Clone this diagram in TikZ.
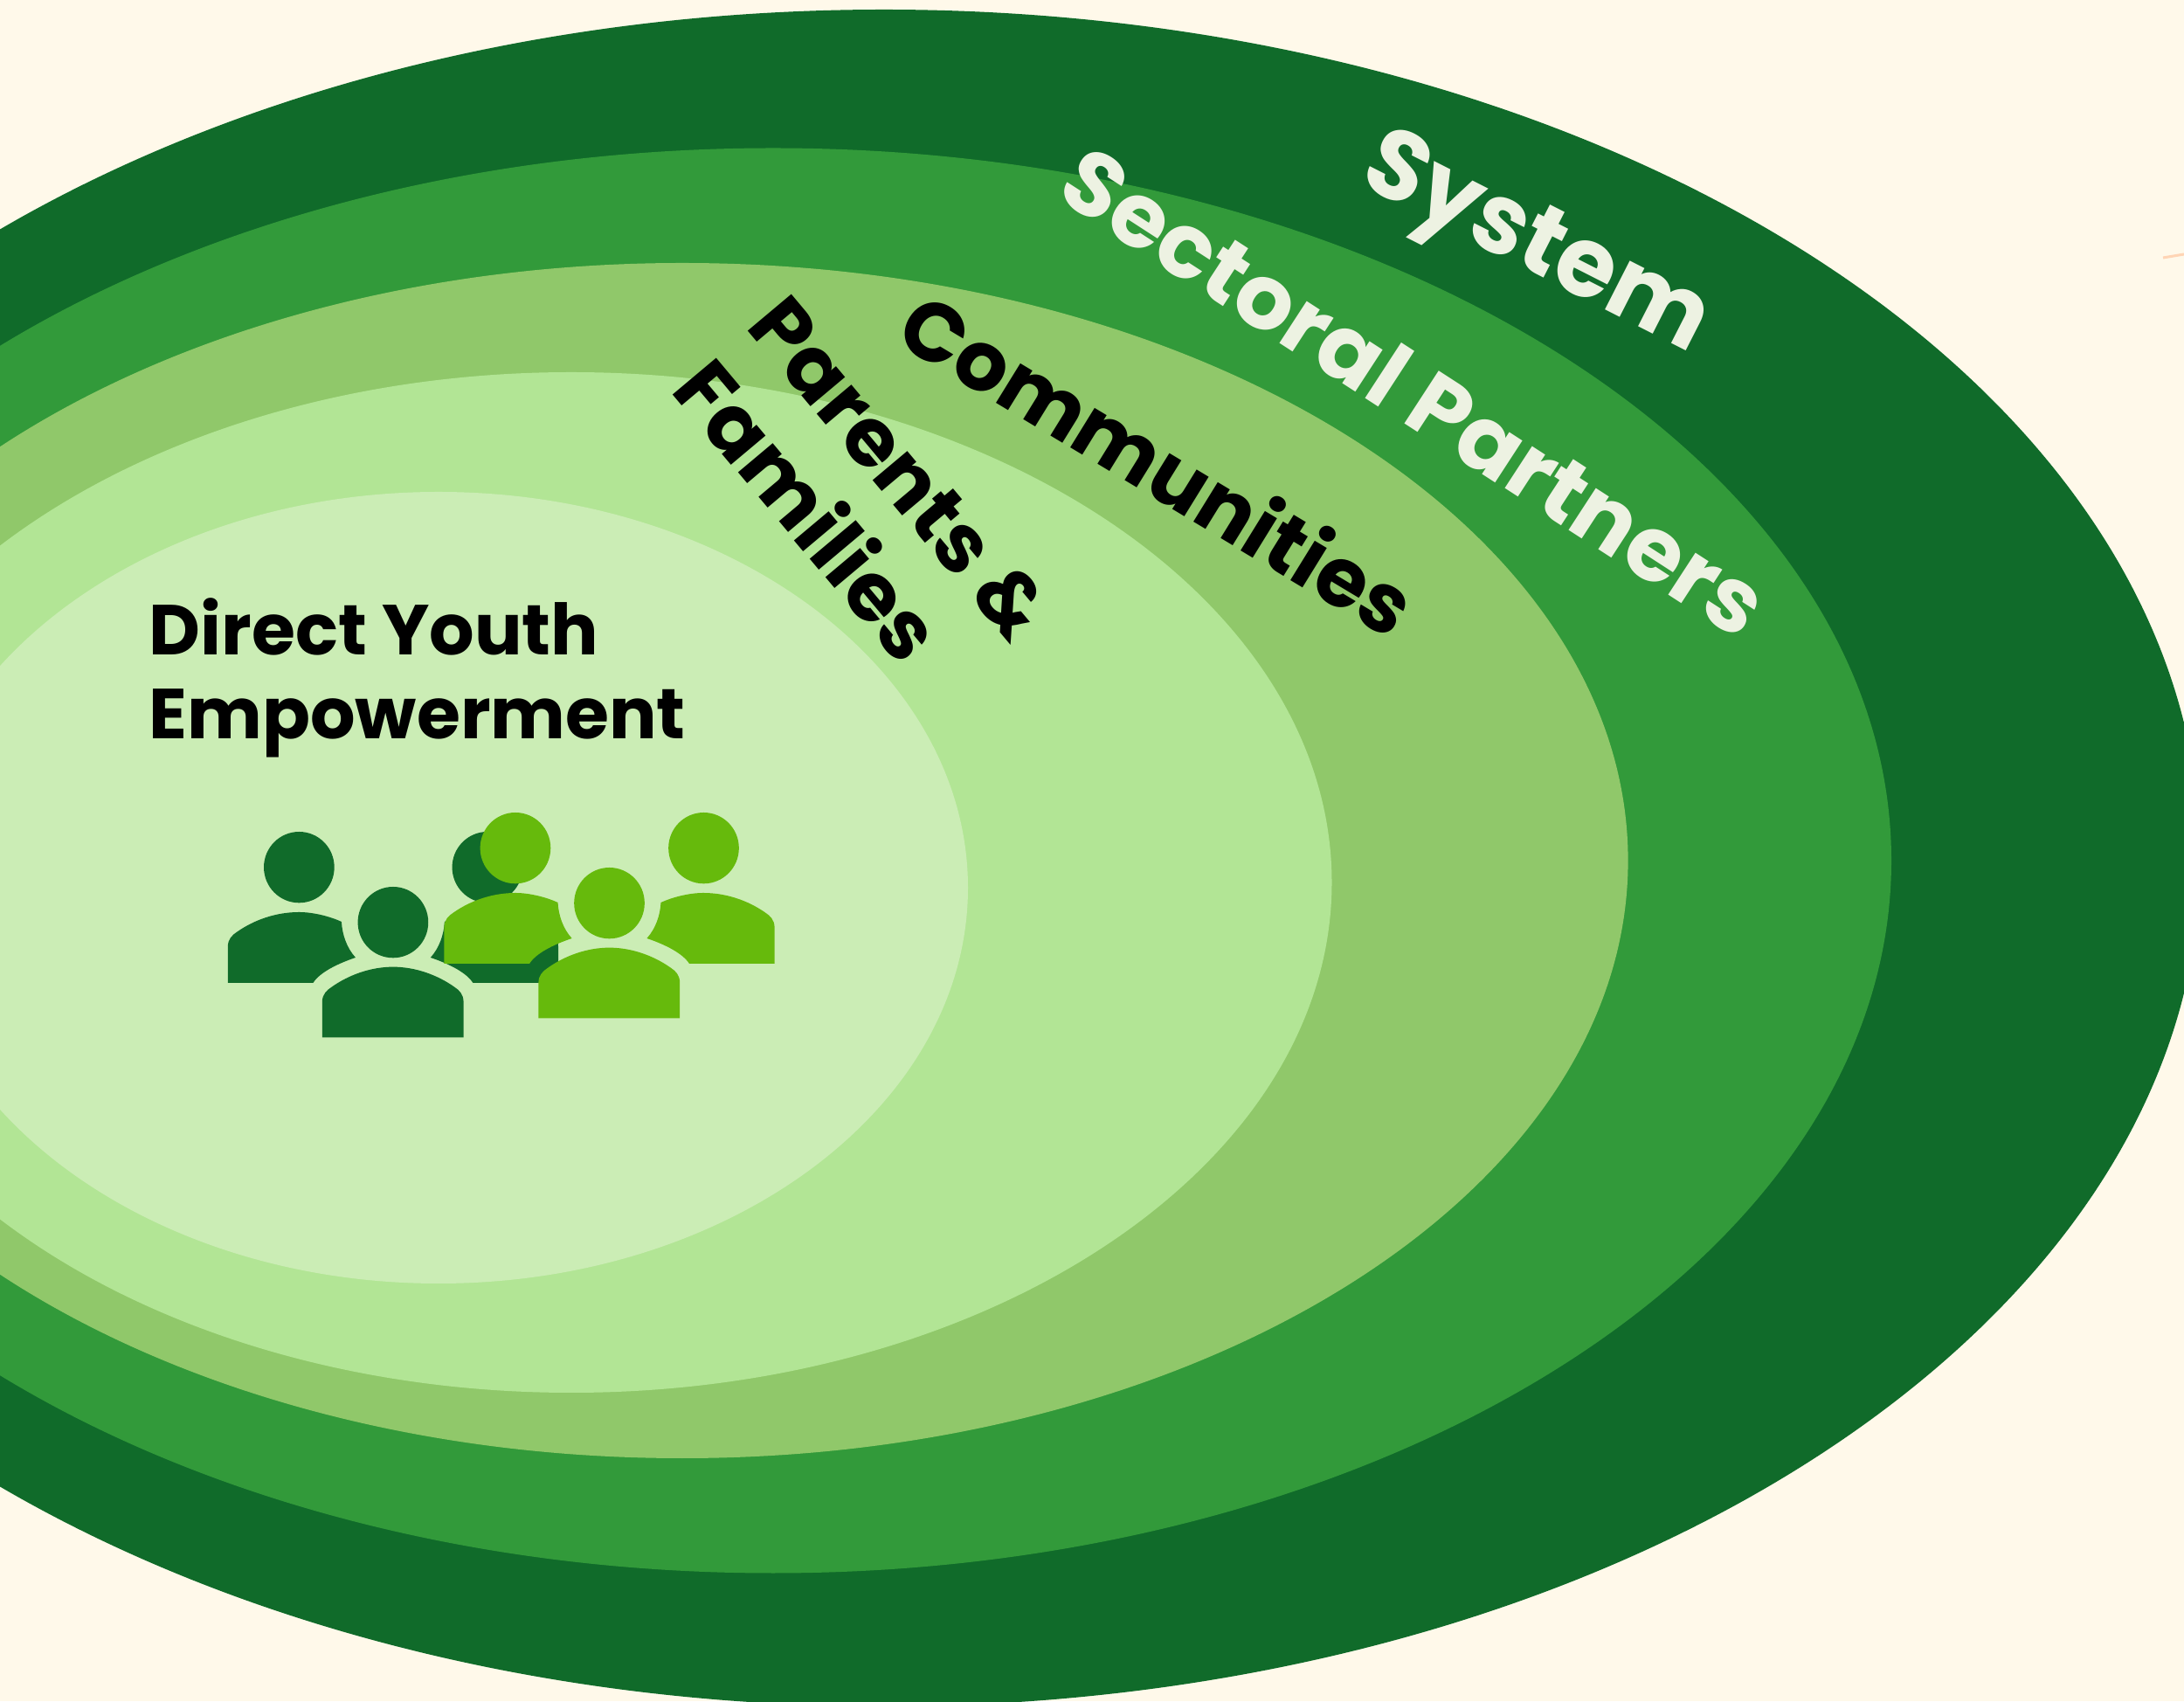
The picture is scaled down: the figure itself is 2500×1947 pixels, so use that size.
\documentclass[tikz,border=0pt]{standalone}
\usepackage{fontspec}
\setmainfont{Poppins}
\definecolor{bgc}{HTML}{FFF9EA}
\definecolor{ringa}{HTML}{106B2A}
\definecolor{ringb}{HTML}{329A3A}
\definecolor{ringc}{HTML}{90C86A}
\definecolor{ringd}{HTML}{B2E595}
\definecolor{ringe}{HTML}{CBEDB5}
\definecolor{lighttext}{HTML}{EDF2E2}
\definecolor{iconlight}{HTML}{66BA0C}
\definecolor{peachmark}{HTML}{FFD5B5}
\tikzset{
  warped/.style={anchor=base west,inner sep=0pt,outer sep=0pt,transform shape,font=\bfseries\fontsize{100}{100}\selectfont},
  flat/.style={anchor=base west,inner sep=0pt,font=\bfseries\fontsize{81}{81}\selectfont},
  pics/crowd/.style={code={
    \begin{scope}[x=0.4337pt,y=-0.3333pt]
      \fill[#1] (236,278) ellipse [x radius=93,y radius=122];
      \fill[#1] (733,278) ellipse [x radius=93,y radius=122];
      \fill[#1] (484,467) ellipse [x radius=93,y radius=122];
      \fill[#1] (48,675) -- (48,550) .. controls (48,525) and (60,510) .. (72,500) .. controls (118,458) and (176,432) .. (236,432) .. controls (275,432) and (320,448) .. (348,465) .. controls (350,510) and (362,555) .. (385,588) .. controls (335,610) and (290,640) .. (273,675) -- cycle;
      \fill[#1] (920,675) -- (920,550) .. controls (920,525) and (908,510) .. (896,500) .. controls (850,458) and (792,432) .. (732,432) .. controls (693,432) and (648,448) .. (620,465) .. controls (618,510) and (606,555) .. (583,588) .. controls (633,610) and (678,640) .. (695,675) -- cycle;
      \fill[#1] (297,862) -- (297,740) .. controls (297,715) and (309,700) .. (321,690) .. controls (366,648) and (425,620) .. (484,620) .. controls (543,620) and (602,648) .. (647,690) .. controls (659,700) and (670,715) .. (670,740) -- (670,862) -- cycle;
    \end{scope}
  }}
}
\begin{document}
\begin{tikzpicture}[x=1pt,y=1pt]
\useasboundingbox (0,0) rectangle (2500,1947);
\fill[bgc] (0,0) rectangle (2500,1947);
\begin{scope}
\clip (0,0) rectangle (2500,1947);
\fill[ringa] (1012,965) ellipse [x radius=1507,y radius=971];
\fill[ringb] (885,962) ellipse [x radius=1280,y radius=815.5];
\fill[ringc] (781,962) ellipse [x radius=1082.6,y radius=684];
\fill[ringd] (654,937) ellipse [x radius=870.5,y radius=584];
\fill[ringe] (502,931) ellipse [x radius=606,y radius=453];
\end{scope}
\draw[peachmark,line width=3pt] (2476,1652) coordinate (ma) -- (2500,1656) coordinate (mb);
\pic at (240,1047) {crowd=ringa};
\pic at (487.6,1069) {crowd=iconlight};
\node[warped,text=lighttext,cm={.985,-.50,.51,1.0,(1553,1737.3)}] (system) at (0,0) {System};
\node[warped,text=lighttext,cm={.882,-.571,.56,.86,(1206,1722)}] (sectoral) at (0,0) {Sectoral Partners};
\node[warped,text=black,cm={.81,-.487,.5,.81,(1021.8,1556.7)}] (communities) at (0,0) {Communities};
\node[warped,text=black,cm={.61,-.728,.712,.598,(852,1572)}] (parents) at (0,0) {Parents \&};
\node[warped,text=black,cm={.61,-.728,.712,.598,(766.5,1499.3)}] (families) at (0,0) {Families};
\node[flat] (direct) at (170.6,1197) {Direct Youth};
\node[flat] (empower) at (170.6,1101) {Empowerment};
\end{tikzpicture}
\end{document}
